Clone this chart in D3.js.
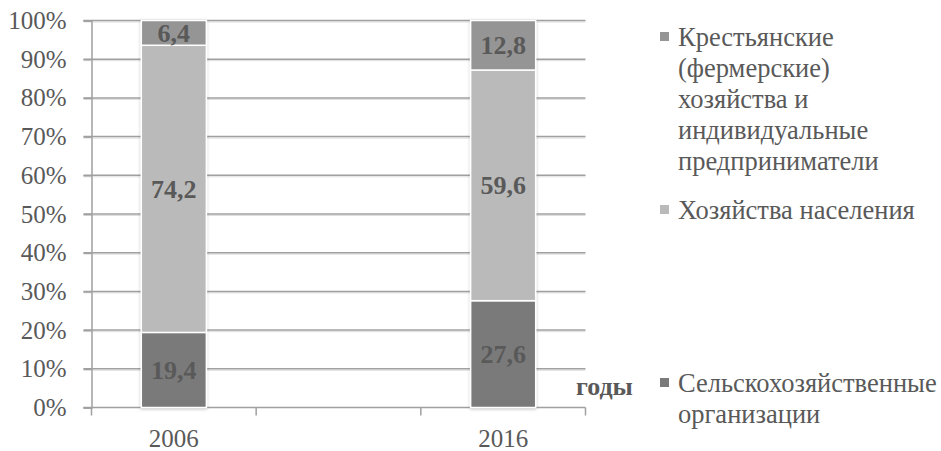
<!DOCTYPE html>
<html>
<head>
<meta charset="utf-8">
<script src="https://cdn.jsdelivr.net/npm/d3@7"></script>
<style>
    body { margin: 0; background: #fff; }
    svg text { font-family: "Liberation Serif", "Times New Roman", serif; }
</style>
</head>
<body>
<svg id="chart" width="941" height="451"></svg>
<script>
// years on the category axis (middle slot is empty in the original)
var years = ["2006", "", "2016"];
// shares, % (bottom -> top)
var selhoz = [19.4, null, 27.6];
var naselenie = [74.2, null, 59.6];
var fermery = [6.4, null, 12.8];
var yTicks = [0, 10, 20, 30, 40, 50, 60, 70, 80, 90, 100];

var legendLines = [
    ["Крестьянские", "(фермерские)", "хозяйства и", "индивидуальные", "предприниматели"],
    ["Хозяйства населения"],
    ["Сельскохозяйственные", "организации"]
];
var colors = ["#7a7a7a", "#bababa", "#959595"];

function init() {
    var left = 91.5, right = 585.5, top = 20.5, bottom = 407.5;
    var svg = d3.select("#chart");

    var xScale = d3.scaleBand()
        .domain(d3.range(years.length))
        .range([left, right]);

    var yScale = d3.scaleLinear()
        .domain([0, 100])
        .range([bottom, top]);

    // gridlines with a soft shadow line under each
    var grid = svg.append("g");
    yTicks.forEach(function (t) {
        if (t === 0) return;
        grid.append("line")
            .attr("x1", left - 8).attr("x2", right)
            .attr("y1", yScale(t) + 1.5).attr("y2", yScale(t) + 1.5)
            .attr("stroke", "#dedede").attr("stroke-width", 1);
        grid.append("line")
            .attr("x1", left - 8).attr("x2", right)
            .attr("y1", yScale(t)).attr("y2", yScale(t))
            .attr("stroke", "#a0a0a0").attr("stroke-width", 1.5);
    });

    // y axis
    var yAxis = d3.axisLeft(yScale)
        .tickValues(yTicks)
        .tickSize(8)
        .tickPadding(17)
        .tickFormat(function (d) { return d + "%"; });
    var yg = svg.append("g")
        .attr("transform", "translate(" + left + ",0)")
        .call(yAxis)
        .attr("font-family", null);
    yg.select(".domain").attr("stroke", "#a0a0a0").attr("stroke-width", 1.5);
    yg.selectAll(".tick line").attr("stroke", "#a0a0a0").attr("stroke-width", 1.5);
    yg.selectAll(".tick text")
        .attr("fill", "#595959")
        .style("font-size", "25px");

    // x axis: ticks on the band boundaries
    var xg = svg.append("g");
    xg.append("line")
        .attr("x1", left - 8).attr("x2", right)
        .attr("y1", bottom).attr("y2", bottom)
        .attr("stroke", "#a0a0a0").attr("stroke-width", 1.5);
    d3.range(years.length + 1).forEach(function (i) {
        var xx = left + i * xScale.step();
        xg.append("line")
            .attr("x1", xx).attr("x2", xx)
            .attr("y1", bottom).attr("y2", bottom + 8)
            .attr("stroke", "#a0a0a0").attr("stroke-width", 1.5);
    });
    xg.selectAll("text.year")
        .data(years)
        .enter()
        .append("text")
        .attr("class", "year")
        .attr("x", function (d, i) { return xScale(i) + xScale.bandwidth() / 2; })
        .attr("y", 447)
        .attr("text-anchor", "middle")
        .attr("fill", "#595959")
        .style("font-size", "25px")
        .text(function (d) { return d; });

    // stacked bars
    var defs = svg.append("defs");
    var f = defs.append("filter").attr("id", "shadow")
        .attr("x", "-20%").attr("y", "-10%").attr("width", "140%").attr("height", "120%");
    f.append("feDropShadow")
        .attr("dx", 0).attr("dy", 1).attr("stdDeviation", 1.5)
        .attr("flood-color", "#000").attr("flood-opacity", 0.25);

    var rows = years.map(function (y, i) {
        return { i: i, v: [selhoz[i], naselenie[i], fermery[i]] };
    }).filter(function (r) { return r.v[0] != null; });

    var barW = xScale.bandwidth() * 0.395;
    rows.forEach(function (r) {
        var cx = xScale(r.i) + xScale.bandwidth() / 2;
        var g = svg.append("g").attr("filter", "url(#shadow)");
        var acc = 0;
        r.v.forEach(function (val, k) {
            var y0 = yScale(acc), y1 = yScale(acc + val);
            g.append("rect")
                .attr("x", cx - barW / 2)
                .attr("y", y1)
                .attr("width", barW)
                .attr("height", y0 - y1)
                .attr("fill", colors[k])
                .attr("stroke", "#fff")
                .attr("stroke-width", 1.5);
            acc += val;
        });
        acc = 0;
        r.v.forEach(function (val, k) {
            var ym = yScale(acc + val / 2);
            svg.append("text")
                .attr("x", cx)
                .attr("y", ym)
                .attr("dy", "0.35em")
                .attr("text-anchor", "middle")
                .attr("fill", "#595959")
                .style("font-size", "26px")
                .style("font-weight", "bold")
                .text(String(val).replace(".", ","));
            acc += val;
        });
    });

    // axis title
    svg.append("text")
        .attr("x", 576)
        .attr("y", 395)
        .attr("fill", "#595959")
        .style("font-size", "26px")
        .style("font-weight", "bold")
        .text("годы");

    // legend (top item first, as in the original)
    var legendTop = [37, 210, 383];
    var legendOrder = [2, 1, 0];
    legendOrder.forEach(function (k, n) {
        var y0 = legendTop[n];
        svg.append("rect")
            .attr("x", 660).attr("y", y0 - 5)
            .attr("width", 9).attr("height", 9)
            .attr("fill", colors[k]);
        var t = svg.append("text")
            .attr("fill", "#595959")
            .style("font-size", "26.5px");
        legendLines[n].forEach(function (line, j) {
            t.append("tspan")
                .attr("x", 678)
                .attr("y", y0 + j * 31)
                .attr("dy", "0.35em")
                .text(line);
        });
    });
}
window.onload = init;
</script>
</body>
</html>
